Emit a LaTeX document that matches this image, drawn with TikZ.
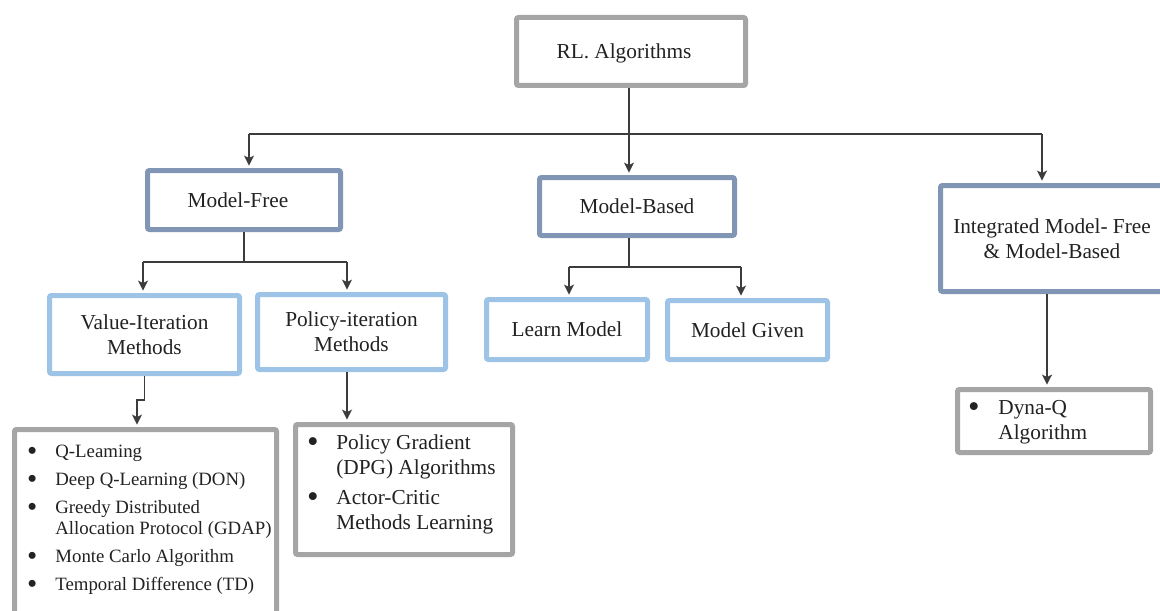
\documentclass[tikz,border=0pt]{standalone}
\usepackage{fontspec}
\setmainfont{Liberation Serif}
\usetikzlibrary{arrows.meta}
\definecolor{graybd}{HTML}{A5A5A5}
\definecolor{darkbd}{HTML}{8096B4}
\definecolor{lightbd}{HTML}{9DC3E6}
\definecolor{arrowc}{HTML}{3C3C3C}
\definecolor{txt}{HTML}{222222}
\newcommand\bigbul{\raisebox{-0.16em}{\scalebox{1.55}{\textbullet}}}
\newcommand\bulA{\makebox[13.5pt][l]{\hspace*{-0.6pt}\bigbul}}
\newcommand\bulB{\makebox[14pt][l]{\hspace*{-0.6pt}\bigbul}}
\newcommand\bulC{\makebox[14.5pt][l]{\hspace*{-0.6pt}\bigbul}}
\begin{document}
\begin{tikzpicture}[x=0.5pt,y=-0.5pt,
  box/.style={draw, line width=2.5pt, fill=white, inner sep=0pt, rounded corners=1pt,
              text=txt, font=\fontsize{10.65}{12.3}\selectfont, align=center},
  gbox/.style={box, draw=graybd},
  dbox/.style={box, draw=darkbd},
  lbox/.style={box, draw=lightbd},
  listtxt/.style={anchor=base west, inner sep=0pt, text=txt},
  conn/.style={draw=arrowc, line width=0.85pt},
  arr/.style={conn, -{Stealth[length=5pt,width=5pt,inset=1.2pt]}, shorten >=1.2pt},
]
\clip (0,0) rectangle (1160,610);
\fill[white] (0,0) rectangle (1160,610);

% boxes
\node[gbox, minimum width=114.5pt, minimum height=34pt, text depth=0pt] (rl) at (631,51.5) {RL. Algorithms\hspace*{7pt}};
\node[dbox, minimum width=96.5pt, minimum height=29.5pt] (mf) at (244,200) {Model-Free\hspace*{6pt}};
\node[dbox, minimum width=97.5pt, minimum height=29pt] (mb) at (637,206.5) {Model-Based};
\node[dbox, minimum width=111.5pt, minimum height=53pt] (int) at (1052,238.5) {Integrated Model- Free\\\& Model-Based};
\node[lbox, minimum width=95pt, minimum height=39pt] (vi) at (144.5,334.5) {Value-Iteration\\Methods};
\node[lbox, minimum width=94pt, minimum height=37.5pt] (pi) at (351.5,332) {Policy-iteration\\Methods};
\node[lbox, minimum width=80.5pt, minimum height=30pt] (lm) at (567,329.5) {Learn Model};
\node[lbox, minimum width=80pt, minimum height=29.5pt] (mg) at (747.5,330) {Model Given};
\node[gbox, minimum width=131pt, minimum height=96.5pt] (l1) at (145.5,526) {};
\node[gbox, minimum width=108.5pt, minimum height=65pt] (l2) at (404,489.5) {};
\node[gbox, minimum width=96.5pt, minimum height=31.5pt] (dq) at (1054,421) {};

% list texts
\node[listtxt, font=\fontsize{9.4}{10.5}\selectfont] (l1t) at (28,457) {%
\begin{tabular}[t]{@{}l@{}l@{}}
\bulA & Q-Leaming\\[3.5pt]
\bulA & Deep Q-Learning (DON)\\[3.5pt]
\bulA & Greedy Distributed\\
      & Allocation Protocol (GDAP)\\[3.5pt]
\bulA & Monte Carlo Algorithm\\[3.5pt]
\bulA & Temporal Difference (TD)
\end{tabular}};
\node[listtxt, font=\fontsize{10.65}{12.5}\selectfont] (l2t) at (308,449) {%
\begin{tabular}[t]{@{}l@{}l@{}}
\bulB & Policy Gradient\\
      & (DPG) Algorithms\\[2.5pt]
\bulB & Actor-Critic\\
      & Methods Learning
\end{tabular}};
\node[listtxt, font=\fontsize{10.65}{12.5}\selectfont] (dqt) at (969,414) {%
\begin{tabular}[t]{@{}l@{}l@{}}
\bulC & Dyna-Q\\
      & Algorithm
\end{tabular}};

% connectors
\coordinate (hL) at (249,134);
\coordinate (hR) at (1042,134);
\coordinate (rlx) at (629,134);
\draw[conn] (hL) -- (hR);
\draw[arr] (rlx |- rl.south) -- (rlx |- mb.north);
\draw[arr] (hL) -- (hL |- mf.north);
\draw[arr] (hR) -- (hR |- int.north);

\coordinate (mfL) at (143,262);
\coordinate (mfR) at (347,262);
\draw[conn] (mf.south) -- (mf.south |- mfL);
\draw[conn] (mfL) -- (mfR);
\draw[arr] (mfL) -- (mfL |- vi.north);
\draw[arr] (mfR) -- (mfR |- pi.north);

\coordinate (mbL) at (569,267);
\coordinate (mbR) at (741,267);
\draw[conn] (rlx |- mb.south) -- (rlx |- mbL);
\draw[conn] (mbL) -- (mbR);
\draw[arr] (mbL) -- (mbL |- lm.north);
\draw[arr] (mbR) -- (mbR |- mg.north);

\coordinate (intx) at (1047,300);
\draw[arr] (intx |- int.south) -- (intx |- dq.north);

\coordinate (j1) at (144,400);
\coordinate (j2) at (137,400);
\draw[arr] (vi.south) -- (vi.south |- j1) -- (j2) -- (j2 |- l1.north);
\draw[arr] (mfR |- pi.south) -- (mfR |- l2.north);
\end{tikzpicture}
\end{document}
